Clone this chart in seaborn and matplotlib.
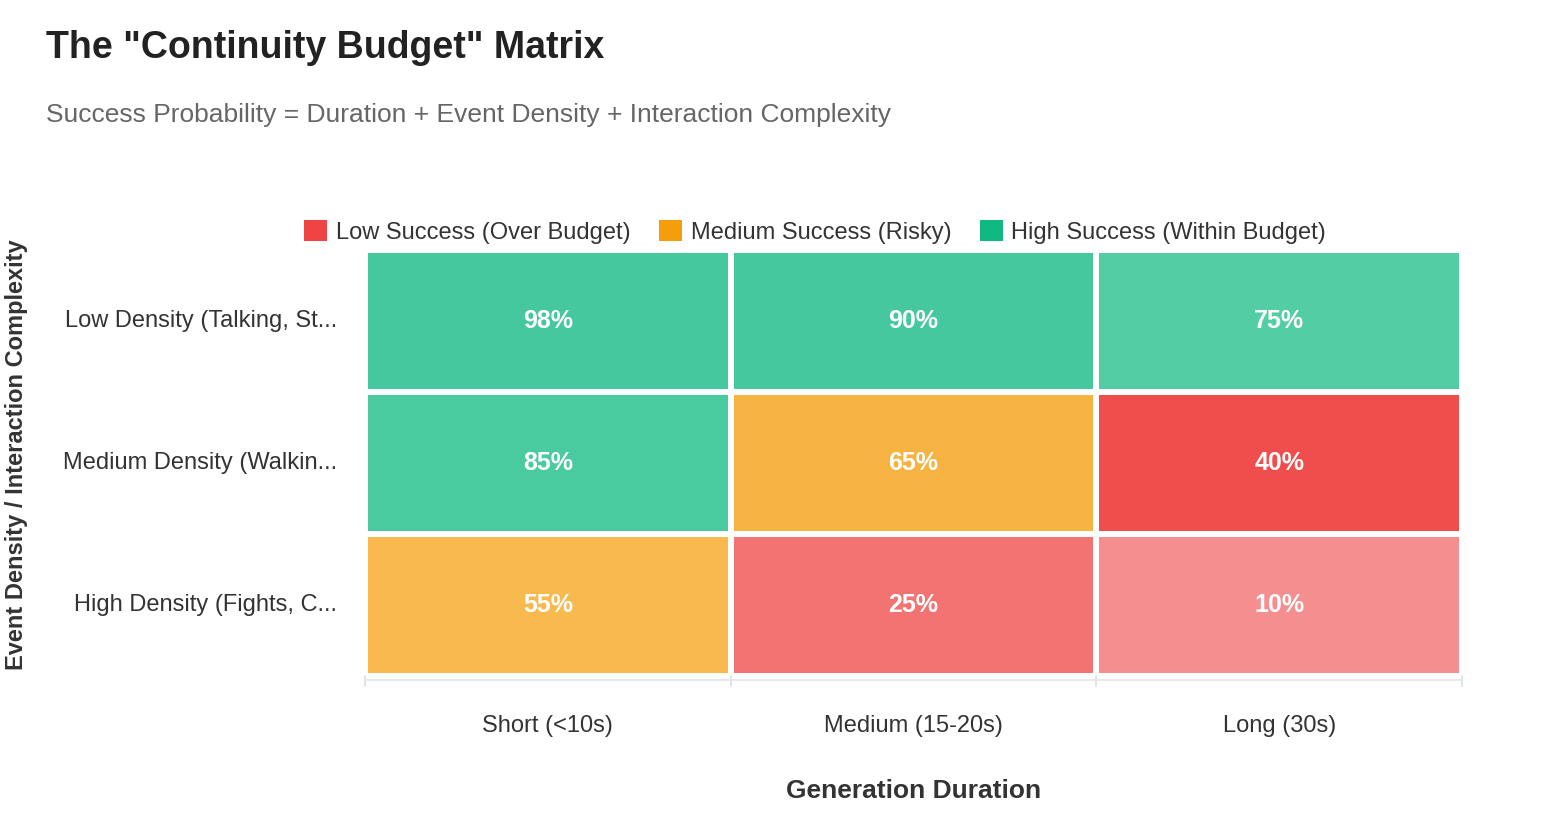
import numpy as np
import pandas as pd
import seaborn as sns
import matplotlib.pyplot as plt
from matplotlib.colors import ListedColormap
from matplotlib.patches import Patch

durations = ["Short (<10s)", "Medium (15-20s)", "Long (30s)"]
densities = ["Low Density (Talking, St...", "Medium Density (Walkin...", "High Density (Fights, C..."]
values = [[98, 90, 75],
          [85, 65, 40],
          [55, 25, 10]]
# category: 0 low, 1 medium, 2 high
categories = [[2, 2, 2],
              [2, 1, 0],
              [1, 0, 0]]
opacity = [[0.78, 0.78, 0.72],
           [0.76, 0.78, 0.95],
           [0.72, 0.75, 0.6]]
legend_labels = ["Low Success (Over Budget)", "Medium Success (Risky)", "High Success (Within Budget)"]
base = {0: (239, 68, 68), 1: (245, 158, 11), 2: (16, 185, 129)}

sns.set_theme(style="white")
plt.rcParams['font.family'] = ['Liberation Sans', 'DejaVu Sans']

cell_colors = []
idx = np.zeros((3, 3), dtype=int)
for i in range(3):
    for j in range(3):
        r, g, b = base[categories[i][j]]
        a = opacity[i][j]
        cell_colors.append(tuple((a * c + (1 - a) * 255) / 255 for c in (r, g, b)))
        idx[i, j] = i * 3 + j
cmap = ListedColormap(cell_colors)

df = pd.DataFrame(values, index=densities, columns=durations)
annot = np.array([[f"{v}%" for v in row] for row in values])

fig = plt.figure(figsize=(15.54, 8.16), dpi=100)
ax = fig.add_axes([365/1554, 1 - 676/816, 1097/1554, 426/816])
sns.heatmap(pd.DataFrame(idx, index=densities, columns=durations), ax=ax, cmap=cmap,
            vmin=-0.5, vmax=8.5, cbar=False, annot=annot, fmt="",
            annot_kws=dict(color="white", fontsize=18, fontweight="bold"),
            linewidths=3, linecolor="white")
ax.tick_params(axis='y', labelsize=17, colors="#333333", length=0, pad=20, rotation=0)
ax.tick_params(axis='x', labelsize=17, colors="#333333", length=0, pad=28)
for lab in ax.get_yticklabels():
    lab.set_rotation(0)
ax.set_xlabel("Generation Duration", fontsize=19, fontweight="bold", color="#333333", labelpad=30)
ax.set_ylabel("")
for x in [0, 1, 2, 3]:
    ax.plot([x, x], [3.0, 3.07], color="#dddddd", lw=1.2, clip_on=False)
ax.plot([0, 3], [3.03, 3.03], color="#e5e5e5", lw=1.2, clip_on=False)

fig.text(28/1554, 1 - 455/816, "Event Density / Interaction Complexity", rotation=90,
         fontsize=17, fontweight="bold", color="#333333", ha="right", va="center")

fig.text(46/1554, 1 - 48/816, 'The "Continuity Budget" Matrix', fontsize=27, fontweight="bold",
         color="#222222", va="center")
fig.text(46/1554, 1 - 115/816, "Success Probability = Duration + Event Density + Interaction Complexity",
         fontsize=19, color="#666666", va="center")

handles = [Patch(facecolor=tuple(c / 255 for c in base[k]), edgecolor="none") for k in range(3)]
fig.legend(handles, legend_labels, loc="center", bbox_to_anchor=(815/1554, 1 - 232/816), ncol=3,
           frameon=False, fontsize=17, handlelength=1.0, handleheight=1.0, handletextpad=0.35,
           columnspacing=1.2, labelcolor="#333333")

fig.savefig("out.png", dpi=100)
